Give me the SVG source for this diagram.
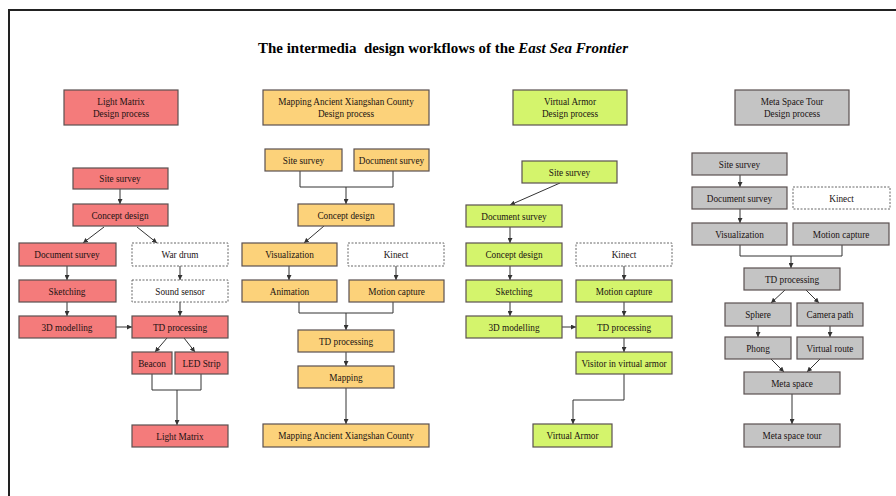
<svg xmlns="http://www.w3.org/2000/svg" width="896" height="496" viewBox="0 0 896 496" font-family="'Liberation Serif', serif">
<style>
text{font-family:'Liberation Serif','Times New Roman',serif;font-size:10.5px;fill:#1a1212;text-anchor:middle;dominant-baseline:central;transform-box:fill-box;transform-origin:center;transform:scaleX(0.88)}
.b{stroke:#5a5050;stroke-width:1.2}
.r{fill:#F47B7B}
.o{fill:#FCD27A}
.g{fill:#D4F46C}
.y{fill:#C4C4C4}
.d{fill:#fff;stroke:#666;stroke-width:1;stroke-dasharray:2,1.5}
.c{fill:none;stroke:#333;stroke-width:1}
text.title{font-size:15.5px;font-weight:bold;fill:#000;transform:scaleX(0.965);white-space:pre}
</style>
<defs>
<marker id="ah" viewBox="0 0 6 6" refX="6" refY="3" markerWidth="5" markerHeight="5" orient="auto">
<path d="M0,0L6,3L0,6z" fill="#333"/>
</marker>
</defs>
<rect x="0" y="0" width="896" height="496" fill="#fff"/>
<path d="M8,10H896M9,10V496" fill="none" stroke="#222" stroke-width="2"/>
<text class="title" x="443" y="47">The intermedia  design workflows of the <tspan font-style="italic">East Sea Frontier</tspan></text>

<g id="connectors">
<path class="c" marker-end="url(#ah)" d="M120,189V204"/>
<path class="c" marker-end="url(#ah)" d="M104,227L83,243"/>
<path class="c" marker-end="url(#ah)" d="M137,227L157,243"/>
<path class="c" marker-end="url(#ah)" d="M67,266V280"/>
<path class="c" marker-end="url(#ah)" d="M180,266V280"/>
<path class="c" marker-end="url(#ah)" d="M67,302V316"/>
<path class="c" marker-end="url(#ah)" d="M180,302V316"/>
<path class="c" marker-end="url(#ah)" d="M116,327H132"/>
<path class="c" marker-end="url(#ah)" d="M167,338L155,352"/>
<path class="c" marker-end="url(#ah)" d="M184,338L195,352"/>
<path class="c" d="M152,374V390H201V374"/>
<path class="c" marker-end="url(#ah)" d="M177,390V425"/>
<path class="c" d="M300,171V187H393V171"/>
<path class="c" marker-end="url(#ah)" d="M346,187V204"/>
<path class="c" marker-end="url(#ah)" d="M324,226L304,243"/>
<path class="c" marker-end="url(#ah)" d="M289,266V280"/>
<path class="c" marker-end="url(#ah)" d="M396,266V280"/>
<path class="c" d="M299,302V313H393V302"/>
<path class="c" marker-end="url(#ah)" d="M346,313V330"/>
<path class="c" marker-end="url(#ah)" d="M346,352V366"/>
<path class="c" marker-end="url(#ah)" d="M346,388V424"/>
<path class="c" marker-end="url(#ah)" d="M560,183L510,205"/>
<path class="c" marker-end="url(#ah)" d="M510,227V243"/>
<path class="c" marker-end="url(#ah)" d="M510,266V280"/>
<path class="c" marker-end="url(#ah)" d="M624,266V280"/>
<path class="c" marker-end="url(#ah)" d="M510,302V316"/>
<path class="c" marker-end="url(#ah)" d="M624,302V316"/>
<path class="c" marker-end="url(#ah)" d="M562,327H576"/>
<path class="c" marker-end="url(#ah)" d="M624,338V352"/>
<path class="c" marker-end="url(#ah)" d="M624,374V400H573V424"/>
<path class="c" marker-end="url(#ah)" d="M740,175V187"/>
<path class="c" marker-end="url(#ah)" d="M740,209V223"/>
<path class="c" d="M740,245V256H842V245"/>
<path class="c" marker-end="url(#ah)" d="M791,256V268"/>
<path class="c" marker-end="url(#ah)" d="M785,290L771,303"/>
<path class="c" marker-end="url(#ah)" d="M806,290L819,303"/>
<path class="c" marker-end="url(#ah)" d="M758,326V337"/>
<path class="c" marker-end="url(#ah)" d="M830,326V337"/>
<path class="c" marker-end="url(#ah)" d="M771,359L784,372"/>
<path class="c" marker-end="url(#ah)" d="M820,359L807,372"/>
<path class="c" marker-end="url(#ah)" d="M792,394V424"/>
</g>

<g id="lm-header"><rect class="b r" x="64" y="90" width="114" height="35"/><text x="121" y="101.5">Light Matrix</text><text x="121" y="113">Design process</text></g>
<g id="lm-site"><rect class="b r" x="73" y="168" width="95" height="21"/><text x="120" y="178.5">Site survey</text></g>
<g id="lm-concept"><rect class="b r" x="73" y="204" width="95" height="22"/><text x="120" y="215">Concept design</text></g>
<g id="lm-doc"><rect class="b r" x="19" y="243" width="97" height="23"/><text x="67" y="254.5">Document survey</text></g>
<g id="lm-wardrum"><rect class="d" x="132" y="243" width="96" height="23"/><text x="180" y="254.5">War drum</text></g>
<g id="lm-sketch"><rect class="b r" x="19" y="280" width="97" height="22"/><text x="67" y="291">Sketching</text></g>
<g id="lm-sound"><rect class="d" x="132" y="280" width="96" height="22"/><text x="180" y="291">Sound sensor</text></g>
<g id="lm-3d"><rect class="b r" x="19" y="316" width="97" height="22"/><text x="67" y="327">3D modelling</text></g>
<g id="lm-td"><rect class="b r" x="132" y="316" width="96" height="22"/><text x="180" y="327">TD processing</text></g>
<g id="lm-beacon"><rect class="b r" x="132" y="352" width="40" height="22"/><text x="152" y="363">Beacon</text></g>
<g id="lm-led"><rect class="b r" x="175" y="352" width="53" height="22"/><text x="201.5" y="363">LED Strip</text></g>
<g id="lm-final"><rect class="b r" x="132" y="425" width="96" height="22"/><text x="180" y="436">Light Matrix</text></g>

<g id="ma-header"><rect class="b o" x="263" y="90" width="166" height="35"/><text x="346" y="101.5">Mapping Ancient Xiangshan County</text><text x="346" y="113">Design process</text></g>
<g id="ma-site"><rect class="b o" x="265" y="149" width="77" height="22"/><text x="303.5" y="160">Site survey</text></g>
<g id="ma-doc"><rect class="b o" x="354" y="149" width="75" height="22"/><text x="391.5" y="160">Document survey</text></g>
<g id="ma-concept"><rect class="b o" x="298" y="204" width="96" height="22"/><text x="346" y="215">Concept design</text></g>
<g id="ma-vis"><rect class="b o" x="242" y="243" width="95" height="23"/><text x="289.5" y="254.5">Visualization</text></g>
<g id="ma-kinect"><rect class="d" x="348" y="243" width="96" height="23"/><text x="396" y="254.5">Kinect</text></g>
<g id="ma-anim"><rect class="b o" x="242" y="280" width="95" height="22"/><text x="289.5" y="291">Animation</text></g>
<g id="ma-mocap"><rect class="b o" x="349" y="280" width="95" height="22"/><text x="396.5" y="291">Motion capture</text></g>
<g id="ma-td"><rect class="b o" x="298" y="330" width="96" height="22"/><text x="346" y="341">TD processing</text></g>
<g id="ma-mapping"><rect class="b o" x="298" y="366" width="96" height="22"/><text x="346" y="377">Mapping</text></g>
<g id="ma-final"><rect class="b o" x="263" y="424" width="166" height="23"/><text x="346" y="435.5">Mapping Ancient Xiangshan County</text></g>

<g id="va-header"><rect class="b g" x="513" y="90" width="114" height="35"/><text x="570" y="101.5">Virtual Armor</text><text x="570" y="113">Design process</text></g>
<g id="va-site"><rect class="b g" x="522" y="161" width="95" height="22"/><text x="569.5" y="172">Site survey</text></g>
<g id="va-doc"><rect class="b g" x="466" y="205" width="96" height="22"/><text x="514" y="216">Document survey</text></g>
<g id="va-concept"><rect class="b g" x="466" y="243" width="96" height="23"/><text x="514" y="254.5">Concept design</text></g>
<g id="va-kinect"><rect class="d" x="576" y="243" width="96" height="23"/><text x="624" y="254.5">Kinect</text></g>
<g id="va-sketch"><rect class="b g" x="466" y="280" width="96" height="22"/><text x="514" y="291">Sketching</text></g>
<g id="va-mocap"><rect class="b g" x="576" y="280" width="96" height="22"/><text x="624" y="291">Motion capture</text></g>
<g id="va-3d"><rect class="b g" x="466" y="316" width="96" height="22"/><text x="514" y="327">3D modelling</text></g>
<g id="va-td"><rect class="b g" x="576" y="316" width="96" height="22"/><text x="624" y="327">TD processing</text></g>
<g id="va-visitor"><rect class="b g" x="576" y="352" width="96" height="22"/><text x="624" y="363">Visitor in virtual armor</text></g>
<g id="va-final"><rect class="b g" x="533" y="424" width="79" height="23"/><text x="572.5" y="435.5">Virtual Armor</text></g>

<g id="ms-header"><rect class="b y" x="735" y="90" width="114" height="35"/><text x="792" y="101.5">Meta Space Tour</text><text x="792" y="113">Design process</text></g>
<g id="ms-site"><rect class="b y" x="692" y="153" width="95" height="22"/><text x="739.5" y="164">Site survey</text></g>
<g id="ms-doc"><rect class="b y" x="692" y="187" width="95" height="22"/><text x="739.5" y="198">Document survey</text></g>
<g id="ms-kinect"><rect class="d" x="793" y="187" width="97" height="22"/><text x="841.5" y="198">Kinect</text></g>
<g id="ms-vis"><rect class="b y" x="692" y="223" width="95" height="22"/><text x="739.5" y="234">Visualization</text></g>
<g id="ms-mocap"><rect class="b y" x="793" y="223" width="96" height="22"/><text x="841" y="234">Motion capture</text></g>
<g id="ms-td"><rect class="b y" x="744" y="268" width="96" height="22"/><text x="792" y="279">TD processing</text></g>
<g id="ms-sphere"><rect class="b y" x="725" y="303" width="66" height="23"/><text x="758" y="314.5">Sphere</text></g>
<g id="ms-camera"><rect class="b y" x="797" y="303" width="66" height="23"/><text x="830" y="314.5">Camera path</text></g>
<g id="ms-phong"><rect class="b y" x="725" y="337" width="66" height="22"/><text x="758" y="348">Phong</text></g>
<g id="ms-route"><rect class="b y" x="797" y="337" width="66" height="22"/><text x="830" y="348">Virtual route</text></g>
<g id="ms-meta"><rect class="b y" x="744" y="372" width="96" height="22"/><text x="792" y="383">Meta space</text></g>
<g id="ms-final"><rect class="b y" x="744" y="424" width="96" height="23"/><text x="792" y="435.5">Meta space tour</text></g>
</svg>
